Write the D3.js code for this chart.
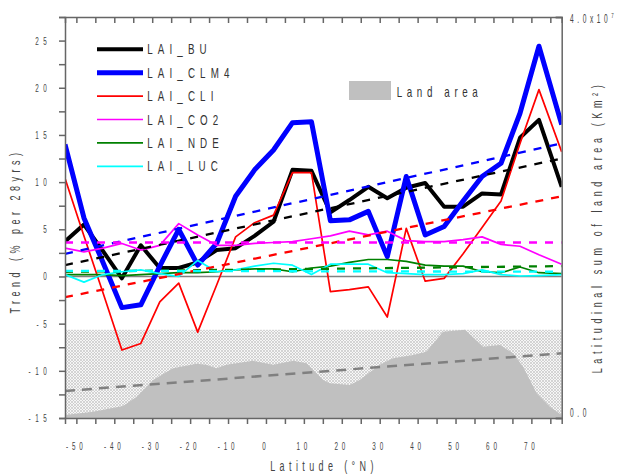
<!DOCTYPE html>
<html>
<head>
<meta charset="utf-8">
<script src="https://cdn.jsdelivr.net/npm/d3@7"></script>
<style>
  body { margin: 0; background: #fff; }
</style>
</head>
<body>
<script>
// latitude of each band (deg N)
const lats = [-53, -48, -43, -38, -33, -28, -23, -18, -13, -8, -3, 2, 7, 12, 17, 22, 27, 32, 37, 42, 47, 52, 57, 62, 67, 72, 78];

// LAI trends, % per 28 yrs
const laiBU   = [3.7, 5.5, 2.7, -0.2, 3.3, 0.9, 0.9, 1.5, 2.8, 3.0, 4.3, 5.8, 11.3, 11.2, 6.8, 8.1, 9.5, 8.3, 9.4, 9.9, 7.4, 7.4, 8.8, 8.7, 14.7, 16.6, 9.5];
const laiCLM4 = [14.0, 6.2, 1.5, -3.3, -3.0, 1.1, 5.0, 1.2, 3.5, 8.5, 11.3, 13.4, 16.3, 16.4, 5.9, 6.0, 6.9, 2.1, 10.6, 4.4, 5.3, 8.0, 10.6, 12.0, 17.3, 24.4, 16.1];
const laiCLI  = [10.4, 4.3, -1.7, -7.8, -7.1, -2.7, -0.7, -5.9, -0.9, 4.2, 5.7, 6.5, 11.0, 11.0, -1.6, -1.4, -1.1, -4.3, 5.1, -0.5, -0.2, 2.4, 5.2, 8.0, 14.1, 19.8, 13.2];
const laiCO2  = [3.0, 2.6, 3.0, 3.5, 2.8, 3.3, 5.6, 4.4, 3.3, 3.3, 3.5, 3.6, 3.7, 4.0, 4.3, 4.8, 4.4, 4.8, 3.8, 3.7, 3.7, 3.9, 4.2, 3.4, 3.2, 2.3, 1.3];
const laiNDE  = [0.2, 0.2, 0.2, 0.1, 0.2, 0.3, 0.4, 0.4, 0.5, 0.7, 0.8, 0.8, 0.5, 0.9, 1.1, 1.5, 1.8, 1.8, 1.6, 1.2, 1.1, 1.1, 0.5, 0.4, 1.0, 0.4, 0.3];
const laiLUC  = [0.2, -0.6, 0.2, 0.5, 0.7, 0.3, 0.0, 1.7, 0.5, 0.7, 1.1, 1.4, 1.2, 0.2, 1.3, 1.3, 1.3, 0.4, 0.3, 0.2, 0.2, 0.3, 0.7, 0.2, 0.05, 0.1, 0.2];

// linear trend of each series, value at the first and last latitude
const trendBU   = [1.2, 12.5];
const trendCLM4 = [2.4, 14.1];
const trendCLI  = [-2.2, 8.5];
const trendCO2  = [3.6, 3.6];
const trendNDE  = [0.5, 1.1];
const trendLUC  = [0.6, 0.5];

// latitudinal sum of land area (10^6 km2)
const landLat  = [-53, -45.6, -37.7, -34.2, -29.8, -24.5, -18.3, -15.7, -13.1, -10.4, -3.4, 1.9, 7.2, 10.7, 15.1, 16.8, 22.1, 24.7, 30.0, 33.5, 38.8, 42.3, 46.7, 52.5, 57.3, 61.7, 65.2, 67.8, 71.4, 74.9, 78];
const landArea = [0.3, 0.63, 1.2, 2.1, 3.8, 4.96, 5.4, 5.3, 4.96, 5.3, 5.7, 5.3, 5.7, 5.45, 3.8, 3.46, 3.3, 3.8, 5.3, 5.95, 6.28, 6.6, 8.6, 8.8, 7.1, 7.28, 6.45, 5.1, 2.46, 1.13, 0.3];
const landTrend = [2.7, 6.45];

const yTicks = [-15, -10, -5, 0, 5, 10, 15, 20, 25];
const xTicks = [-50, -40, -30, -20, -10, 0, 10, 20, 30, 40, 50, 60, 70];

const series = [
  {name: "LAI_BU",   values: laiBU,   trend: trendBU,   color: "#000000", width: 4},
  {name: "LAI_CLM4", values: laiCLM4, trend: trendCLM4, color: "#0000ff", width: 5},
  {name: "LAI_CLI",  values: laiCLI,  trend: trendCLI,  color: "#ff0000", width: 1.7},
  {name: "LAI_CO2",  values: laiCO2,  trend: trendCO2,  color: "#ff00ff", width: 1.7},
  {name: "LAI_NDE",  values: laiNDE,  trend: trendNDE,  color: "#008000", width: 1.7},
  {name: "LAI_LUC",  values: laiLUC,  trend: trendLUC,  color: "#00ffff", width: 1.7}
];

const width = 617, height = 474;
const margin = {top: 17, right: 55.3, bottom: 56, left: 65};
const axisColor = "#666";

const x = d3.scaleLinear().domain([-53, 78]).range([margin.left, width - margin.right]);
const y = d3.scaleLinear().domain([-15, 27.5]).range([height - margin.bottom, margin.top]);
const yLand = d3.scaleLinear().domain([0, 40]).range([height - margin.bottom, margin.top]);

const svg = d3.select("body").append("svg")
  .attr("width", width)
  .attr("height", height);

// narrow, spaced out lettering like the original plot
function label(g, px, py, str, o = {}) {
  const rot = o.rotate ? ` rotate(${o.rotate})` : "";
  return g.append("text")
    .attr("transform", `translate(${px},${py})${rot} scale(${o.sx || 0.55},1)`)
    .attr("font-family", "'Liberation Sans', Arial, sans-serif")
    .attr("font-size", o.size || 11.5)
    .attr("letter-spacing", o.spacing || 0)
    .attr("text-anchor", o.anchor || "start")
    .attr("fill", o.fill || "#333")
    .text(str);
}

// cross hatch for the land-area pane
const defs = svg.append("defs");
const pat = defs.append("pattern")
  .attr("id", "hatch")
  .attr("patternUnits", "userSpaceOnUse")
  .attr("width", 3).attr("height", 3);
pat.append("rect").attr("width", 3).attr("height", 3).attr("fill", "#f6f6f6");
pat.append("path").attr("d", "M0,0L3,3M3,0L0,3").attr("stroke", "#c6c6c6").attr("stroke-width", 0.7);

defs.append("clipPath").attr("id", "plot")
  .append("rect")
  .attr("x", margin.left).attr("y", margin.top)
  .attr("width", width - margin.left - margin.right)
  .attr("height", height - margin.top - margin.bottom);

const plot = svg.append("g").attr("clip-path", "url(#plot)");

plot.append("rect")
  .attr("x", margin.left)
  .attr("y", yLand(d3.max(landArea)))
  .attr("width", width - margin.left - margin.right)
  .attr("height", yLand(0) - yLand(d3.max(landArea)))
  .attr("fill", "url(#hatch)");

const land = landLat.map((d, i) => [d, landArea[i]]);
plot.append("path")
  .datum(land)
  .attr("fill", "#c0c0c0")
  .attr("d", d3.area().x(d => x(d[0])).y0(yLand(0)).y1(d => yLand(d[1])));

plot.append("path")
  .datum([[lats[0], landTrend[0]], [lats[lats.length - 1], landTrend[1]]])
  .attr("fill", "none")
  .attr("stroke", "#808080")
  .attr("stroke-width", 2.5)
  .attr("stroke-dasharray", "10,7")
  .attr("d", d3.line().x(d => x(d[0])).y(d => yLand(d[1])));

// zero line
plot.append("line")
  .attr("x1", margin.left).attr("x2", width - margin.right)
  .attr("y1", y(0)).attr("y2", y(0))
  .attr("stroke", "#808080").attr("stroke-width", 1.6);

const line = d3.line().x((d, i) => x(lats[i])).y(d => y(d));

plot.selectAll(".series")
  .data(series)
  .join("path")
  .attr("class", "series")
  .attr("fill", "none")
  .attr("stroke", d => d.color)
  .attr("stroke-width", d => d.width)
  .attr("stroke-linejoin", "round")
  .attr("d", d => line(d.values));

plot.selectAll(".trend")
  .data(series)
  .join("line")
  .attr("class", "trend")
  .attr("x1", x(lats[0]))
  .attr("x2", x(lats[lats.length - 1]))
  .attr("y1", d => y(d.trend[0]))
  .attr("y2", d => y(d.trend[1]))
  .attr("stroke", d => d.color)
  .attr("stroke-width", 2.3)
  .attr("stroke-dasharray", "8,8");

// axes
const axes = svg.append("g");

const yMinor = d3.range(-15, 27.6, 2.5);
axes.append("g")
  .attr("transform", `translate(${margin.left},0)`)
  .call(d3.axisLeft(y).tickValues(yMinor).tickSize(6).tickFormat(""));

const xMinor = d3.range(-50, 76, 5);
axes.append("g")
  .attr("transform", `translate(0,${height - margin.bottom})`)
  .call(d3.axisBottom(x).tickValues(xMinor).tickSize(6).tickFormat(""));

axes.append("g")
  .attr("transform", `translate(0,${margin.top})`)
  .call(d3.axisTop(x).tickValues(xMinor).tickSize(-6).tickFormat(""));

axes.append("g")
  .attr("transform", `translate(${width - margin.right},0)`)
  .call(d3.axisRight(yLand).tickValues([0, 40]).tickSize(-6).tickFormat(""));

axes.selectAll("path.domain, .tick line")
  .attr("stroke", axisColor)
  .attr("stroke-width", 1.5);

yTicks.forEach(v => label(axes, margin.left - 13.6, y(v) + 4, String(v), {anchor: "end", spacing: 8.4, fill: "#444"}));
xTicks.forEach(v => label(axes, x(v), 449.5, String(v), {anchor: "middle", spacing: 7, fill: "#444"}));

const r = label(axes, 570, 23, "4.0x10", {spacing: 6.5, size: 12, fill: "#444"});
r.append("tspan").attr("dy", -5).attr("font-size", 8).text("7");
label(axes, 570, 417, "0.0", {spacing: 6.5, size: 12, fill: "#444"});

// titles
label(svg, 20, 231, "Trend (% per 28yrs)", {rotate: -90, anchor: "middle", size: 15, sx: 0.6, spacing: 7.5, fill: "#444"});
label(svg, 602, 227, "Latitudinal sum of land area (Km²)", {rotate: -90, anchor: "middle", size: 15, sx: 0.6, spacing: 7.7, fill: "#444"});
label(svg, 324, 471, "Latitude (°N)", {anchor: "middle", size: 15, sx: 0.6, spacing: 7.3, fill: "#444"});

// legend
const legend = svg.append("g");
series.forEach((s, i) => {
  const ly = 49.3 + i * 23.4;
  legend.append("line")
    .attr("x1", 97).attr("x2", 143)
    .attr("y1", ly).attr("y2", ly)
    .attr("stroke", s.color)
    .attr("stroke-width", s.width);
  label(legend, 147.3, ly + 5, s.name, {size: 14, sx: 0.7, spacing: 7.3});
});

legend.append("rect")
  .attr("x", 349).attr("y", 81)
  .attr("width", 42).attr("height", 19)
  .attr("fill", "#c0c0c0");
label(legend, 396.7, 97, "Land area", {size: 14, sx: 0.7, spacing: 6.6});
</script>
</body>
</html>
